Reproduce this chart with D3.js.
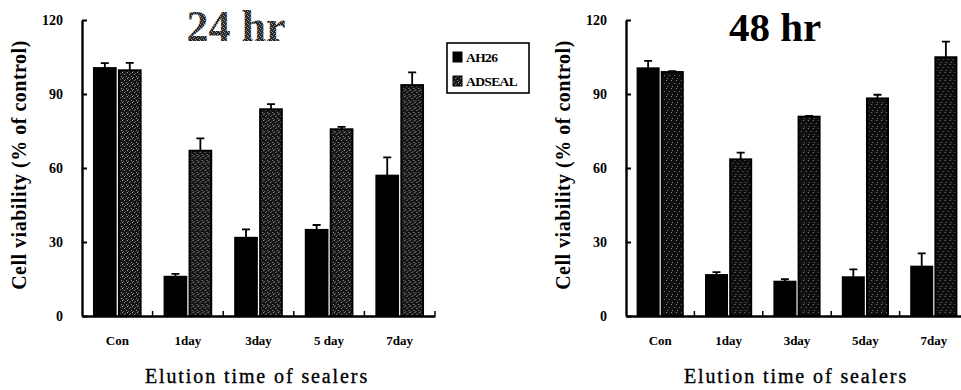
<!DOCTYPE html>
<html><head><meta charset="utf-8">
<script src="https://cdn.jsdelivr.net/npm/d3@7"></script>
<style>body{margin:0;background:#fff}svg{display:block}</style>
</head><body>
<script>
const categories = ["Con","1day","3day","5day","7day"];
const tickLabels24 = ["Con","1day","3day","5 day","7day"];
const tickLabels48 = ["Con","1day","3day","5day","7day"];
const series = ["AH26","ADSEAL"];
const yTicks = [0,30,60,90,120];
// 24 hr
const ah26_24 = [100.5, 15.9, 31.7, 34.9, 56.9];
const ah26_24_err = [2.0, 1.2, 3.4, 2.0, 7.4];
const adseal_24 = [99.6, 67.0, 83.8, 75.7, 93.6];
const adseal_24_err = [3.0, 5.0, 2.1, 1.0, 5.2];
// 48 hr
const ah26_48 = [100.4, 16.6, 13.9, 15.7, 20.0];
const ah26_48_err = [3.0, 1.2, 1.0, 3.2, 5.4];
const adseal_48 = [98.9, 63.5, 80.8, 88.2, 104.9];
const adseal_48_err = [0.4, 2.7, 0.3, 1.5, 6.3];

const W = 961, H = 390;
const svg = d3.select("body").append("svg").attr("width", W).attr("height", H);
const defs = svg.append("defs");
function makePattern(id, base, dots, w, h){
  const p = defs.append("pattern").attr("id",id).attr("patternUnits","userSpaceOnUse")
    .attr("width",w).attr("height",h);
  p.append("rect").attr("width",w).attr("height",h).attr("fill",base);
  dots.forEach(([x,y,c])=>p.append("rect").attr("x",x).attr("y",y).attr("width",1).attr("height",1).attr("fill",c));
}
makePattern("stipL","#141414",[[0,0,"#a8a8a8"],[2,2,"#8c8c8c"],[4,4,"#9a9a9a"],[1,5,"#707070"],[3,1,"#606060"]],5,6);
makePattern("stipR","#0e0e0e",[[0,0,"#8a8a8a"],[3,3,"#6c6c6c"],[1,6,"#7a7a7a"]],5,8);
makePattern("stipT","#262626",[[0,0,"#9a9a9a"],[2,1,"#888"],[1,2,"#8a8a8a"],[3,3,"#999"]],4,4);

const serif = "'Liberation Serif','Times New Roman',serif";

function panel(opt){
  const y = d3.scaleLinear().domain([0,120]).range([316,20]);
  const x = d3.scaleBand().domain(categories).range([opt.x0, opt.x1]).padding(0);
  const xs = d3.scaleBand().domain(series).range([0, x.bandwidth()]).paddingInner(0.13).paddingOuter(0.48);
  const g = svg.append("g");
  const data = categories.map((c,i)=>({c, vals:[
    {s:"AH26", v:opt.a[i], e:opt.ae[i]},
    {s:"ADSEAL", v:opt.b[i], e:opt.be[i]}]}));
  const grp = g.selectAll("g.cat").data(data).join("g").attr("transform", d=>`translate(${x(d.c)},0)`);
  grp.selectAll("path.err").data(d=>d.vals).join("path")
    .attr("d", d=>{
      const cx = xs(d.s)+xs.bandwidth()/2, t = y(d.v+d.e);
      return `M${cx},${y(d.v)}V${t}M${cx-4},${t}H${cx+4}`;
    }).attr("stroke","#000").attr("stroke-width",1.8).attr("fill","none");
  grp.selectAll("rect").data(d=>d.vals).join("rect")
    .attr("x", d=>xs(d.s)).attr("width", xs.bandwidth())
    .attr("y", d=>y(d.v)).attr("height", d=>y(0)-y(d.v))
    .attr("fill", d=>d.s==="AH26" ? "#000" : `url(#${opt.pat})`)
    .attr("stroke","#000").attr("stroke-width",2);
  // y axis
  const ya = d3.axisLeft(y).tickValues(yTicks).tickSizeInner(-5).tickSizeOuter(0).tickPadding(19);
  const yg = g.append("g").attr("transform",`translate(${opt.x0},0)`).call(ya);
  yg.select(".domain").attr("stroke-width",2.4);
  yg.selectAll(".tick line").attr("stroke-width",2);
  yg.selectAll("text").attr("font-family",serif).attr("font-weight","bold").attr("font-size",14).attr("fill","#000");
  // x axis
  const xa = d3.axisBottom(x).tickSize(0).tickPadding(20).tickFormat((d,i)=>opt.labels[i]);
  const xg = g.append("g").attr("transform",`translate(0,${y(0)})`).call(xa);
  xg.select(".domain").attr("stroke-width",2.6);
  xg.selectAll("text").attr("font-family",serif).attr("font-weight","bold").attr("font-size",13).attr("fill","#000");
  g.selectAll("line.bt").data(categories.slice(1).concat(["__end"])).join("line")
    .attr("x1", d=> d==="__end" ? opt.x1 : x(d)).attr("x2", d=> d==="__end" ? opt.x1 : x(d))
    .attr("y1", y(0)).attr("y2", y(0)-5).attr("stroke","#000").attr("stroke-width",1.5);
  // y title
  g.append("text").attr("transform",`translate(${opt.ylx},165) rotate(-90)`)
    .attr("text-anchor","middle").attr("font-family",serif).attr("font-weight","bold")
    .attr("font-size",20).attr("letter-spacing","0.5px").text("Cell viability (% of control)");
  // x title
  g.append("text").attr("x",opt.xtx).attr("y",383).attr("text-anchor","middle")
    .attr("font-family",serif).attr("font-size",20).attr("letter-spacing","1.9px")
    .attr("stroke","#000").attr("stroke-width",0.35)
    .text("Elution time of sealers");
  // chart title
  g.append("text").attr("x",opt.tx).attr("y",41).attr("text-anchor","middle")
    .attr("font-family",serif).attr("font-weight","bold").attr("font-size",opt.tsize)
    .attr("fill",opt.tfill).text(opt.title);
}

panel({x0:82, x1:435, a:ah26_24, ae:ah26_24_err, b:adseal_24, be:adseal_24_err,
  labels:tickLabels24, ylx:26, xtx:257, tx:236, title:"24 hr", tfill:"url(#stipT)", tsize:44, pat:"stipL"});
panel({x0:626, x1:968, a:ah26_48, ae:ah26_48_err, b:adseal_48, be:adseal_48_err,
  labels:tickLabels48, ylx:570, xtx:796, tx:775, title:"48 hr", tfill:"#000", tsize:41, pat:"stipR"});

// legend
const lg = svg.append("g").attr("transform","translate(447,43)");
lg.append("rect").attr("width",82).attr("height",50).attr("fill","#fff").attr("stroke","#000").attr("stroke-width",1.6);
const li = lg.selectAll("g.li").data(series).join("g").attr("transform",(d,i)=>`translate(6,${9+i*24})`);
li.append("rect").attr("width",9).attr("height",10)
  .attr("fill",(d,i)=> i===0 ? "#000" : "url(#stipL)").attr("stroke","#000").attr("stroke-width",1);
li.append("text").attr("x",13).attr("y",9.5).attr("font-family",serif).attr("font-weight","bold")
  .attr("font-size",13.5).attr("letter-spacing","-0.6px").text(d=>d);
</script>
</body></html>
